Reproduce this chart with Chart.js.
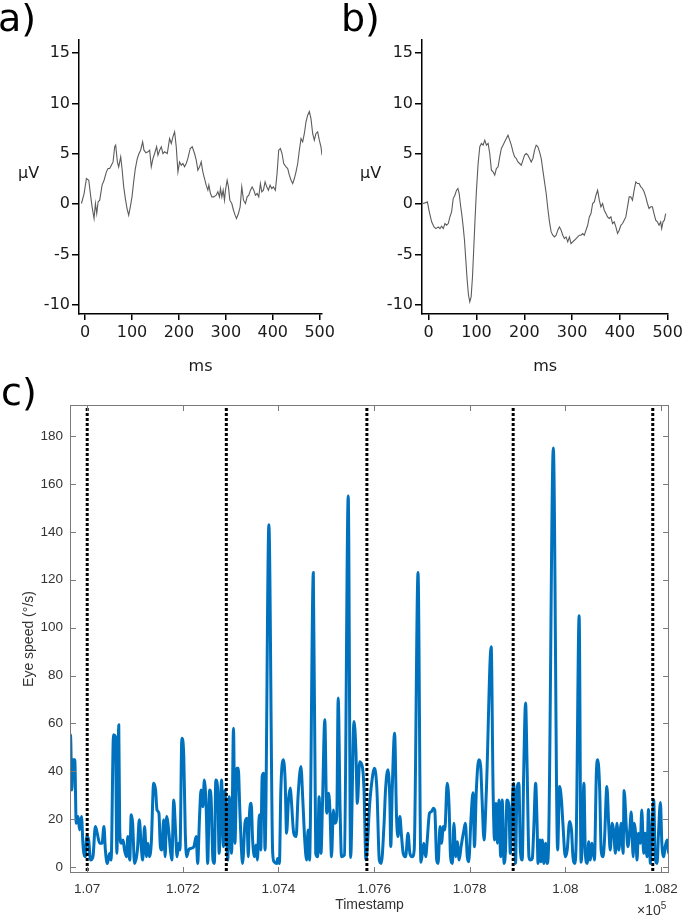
<!DOCTYPE html>
<html><head><meta charset="utf-8">
<script src="https://cdn.jsdelivr.net/npm/chart.js@4.4.1/dist/chart.umd.min.js"></script>
<style>
html,body{margin:0;padding:0;background:#fff;}
#wrap{position:relative;width:686px;height:916px;overflow:hidden;background:#fff;}
canvas{position:absolute;}
.lab{position:absolute;font-family:"DejaVu Sans",sans-serif;line-height:1;color:#000;white-space:nowrap;}
</style></head><body>
<div id="wrap">
<canvas id="ca" width="343" height="380" style="left:0;top:0;width:343px;height:380px"></canvas>
<canvas id="cb" width="343" height="380" style="left:343px;top:0;width:343px;height:380px"></canvas>
<canvas id="cc" width="686" height="536" style="left:0;top:380px;width:686px;height:536px"></canvas>
<div class="lab" style="left:-2px;top:-1px;font-size:38px">a)</div>
<div class="lab" style="left:341px;top:-1px;font-size:38px">b)</div>
<div class="lab" style="left:1px;top:373px;font-size:38px">c)</div>
<div class="lab" style="left:18px;top:165px;font-size:16px;color:#1a1a1a">μV</div>
<div class="lab" style="left:360px;top:165px;font-size:16px;color:#1a1a1a">μV</div>
<div class="lab" style="left:637px;top:903px;font-size:14px;font-family:'Liberation Sans',Arial,sans-serif;color:#333">×10<span style="font-size:10px;position:relative;top:-6px">5</span></div>
</div>
<script>
// ---------- Panel a: ERP trace ----------
const aMs = [-7.8,-2.1,2.8,7.8,12.1,14.9,19.1,22,24.8,27.7,31.2,36.2,40.4,45.4,48.9,52.5,56,59.6,63.1,65.2,68.8,71.6,75.9,78.7,82.3,85.8,89.4,92.9,96.4,100,103.5,107.1,111.3,114.9,118.4,122.7,125.5,129.8,134,137.6,141.1,144.7,148.2,152.5,155.3,158.9,162.4,166,169.5,175.2,180.1,183.7,187.2,190.8,194.3,197.9,201.4,205,208.5,212,215.6,219.1,224.1,228.4,233.3,236.9,240.4,244,247.5,251,254.6,258.1,261.7,263.8,267.3,270.2,274.5,279.4,283,286.5,288.6,291.5,294.3,297.1,299.3,302.8,305.6,308.5,312.7,316.3,319.8,322.7,326.9,330.5,334,337.6,341.8,345.4,348.9,352.5,356,359.6,363.1,366.7,370.2,373.7,376.6,380.1,383.7,387.2,390.8,394.3,397.9,401.4,405.6,409.2,412.7,416.3,419.8,423.4,428.4,431.9,435.4,439,442.5,446.1,449.6,453.2,456.7,460.3,463.8,467.4,470.9,474.5,478,481.5,485.1,488.6,492.2,495.7,499.3,502.8,505];
const aUv = [0.07,1.06,2.55,2.38,0.73,-0.26,-1.42,0.07,-0.93,0.23,0.4,1.89,2.38,3.21,3.54,3.54,3.87,4.2,5.7,5.86,4.2,3.7,4.7,3.54,1.72,0.56,-0.43,-1.09,-0.26,0.73,2.22,3.54,4.54,5.03,5.36,6.19,5.36,5.1,5.2,5.36,3.71,4.54,5.03,5.7,4.87,5.36,5.7,5.03,5.2,5.03,6.52,6.03,6.69,7.19,5.7,3.21,4.2,3.87,4.04,3.71,4.04,4.54,5.53,5.7,5.03,4.37,3.38,3.71,4.2,3.21,2.55,1.89,1.39,1.89,1.06,0.73,0.73,0.89,1.23,0.73,1.56,0.73,1.39,0.4,1.39,2.38,1.72,0.4,0.07,-0.6,-1.09,-1.42,-0.93,-0.26,1.72,0.4,0.07,0.73,0.89,1.39,1.72,1.39,0.89,1.06,0.73,2.05,1.23,1.39,2.22,1.72,1.39,1.89,1.56,1.72,1.39,3.05,5.36,5.53,5.03,4.04,3.71,3.54,2.88,2.38,2.05,2.55,3.21,4.04,5.36,6.52,6.19,7.02,8.18,8.84,9.2,8.5,7.02,6.36,7.02,7.19,6.36,5.7,4.87];

// ---------- Panel b: ERP trace ----------
const bMs = [-12.5,-7.7,-2.8,1.3,6.2,11.1,15.2,20.1,23.6,27,30.5,34,37.5,40.9,44.4,47.9,51.3,54.8,58.3,61.1,63.8,66.6,69.4,72.2,74.9,77.7,80.5,83.3,86,88.8,91.6,94.4,97.2,99.9,103.4,106.9,110.4,113.8,117.3,120.8,124.3,127.7,131.2,134.7,138.1,141.6,145.1,148.6,152,155.5,159,162.4,165.9,169.4,172.9,176.3,179.8,183.3,186.7,190.2,193.7,197.2,200.6,204.1,207.6,211.1,214.5,218,221.5,224.9,228.4,231.9,235.4,238.8,242.3,245.8,249.2,252.7,256.2,259.7,263.1,266.6,270.1,273.5,277,280.5,284,287.4,290.9,294.4,297.8,301.3,304.8,308.3,311.7,315.2,318.7,322.2,325.6,329.1,332.6,336,339.5,343,346.5,349.9,353.4,356.9,360.3,363.8,367.3,370.8,374.2,377.7,381.2,384.6,388.1,391.6,395.1,398.5,402,405.5,409,412.4,415.9,419.4,422.8,426.3,429.8,433.3,436.7,440.2,443.7,447.1,450.6,454.1,457.6,461,464.5,468,471.4,474.9,478.4,481.9,485.3,487.4,490.2,493,495.7];
const bUv = [0.07,0.13,0.23,-0.76,-1.75,-2.25,-2.42,-2.25,-2.42,-2.19,-2.42,-1.92,-2.09,-1.92,-1.26,-0.76,0.56,0.89,1.39,1.56,1.06,-0.1,-1.09,-2.25,-3.58,-5.56,-7.55,-9.04,-9.7,-9.2,-7.22,-4.24,-1.26,1.39,4.04,5.7,6.03,5.86,6.36,5.86,6.03,5.03,3.38,3.21,2.88,3.54,3.71,4.7,5.53,5.86,6.19,6.52,6.85,6.36,5.86,5.2,4.7,4.54,4.2,4.04,3.87,4.37,4.87,5.03,4.87,4.54,4.2,4.54,5.36,5.86,5.7,5.2,4.54,3.38,2.22,1.06,-0.43,-1.75,-2.75,-3.08,-3.25,-3.08,-2.58,-2.25,-2.58,-3.08,-3.41,-3.25,-3.74,-3.25,-3.91,-3.74,-3.58,-3.41,-3.25,-3.08,-3.08,-2.91,-3.08,-2.58,-2.09,-1.26,-0.93,0.07,0.23,0.89,1.39,0.4,-0.26,0.07,-0.6,-0.93,-1.26,-1.42,-1.26,-1.92,-1.75,-2.25,-2.91,-2.58,-2.09,-1.92,-1.59,-1.26,-0.26,0.73,0.73,0.4,1.39,2.22,2.05,2.05,1.72,1.56,1.23,0.73,0.07,-0.43,-0.26,-0.26,-0.93,-1.59,-1.75,-2.09,-1.75,-2.42,-1.75,-1.59,-0.93];

const msTicks = [0,100,200,300,400,500];
const uvTicks = [-10,-5,0,5,10,15];

// ---------- Panel c: eye speed ----------
const cTime = [106960,106965,106968,106970,106974,106977,106981,106984,106988,106991,106993,106996,106999,107003,107007,107012,107017,107021,107026,107031,107035,107038,107042,107047,107050,107055,107059,107062,107066,107068,107071,107075,107078,107082,107085,107089,107092,107095,107099,107105,107109,107113,107116,107120,107124,107127,107130,107134,107139,107143,107146,107150,107153,107156,107160,107163,107166,107171,107174,107177,107181,107185,107188,107191,107194,107198,107202,107205,107208,107212,107217,107223,107228,107231,107235,107238,107242,107245,107249,107252,107256,107259,107263,107266,107269,107273,
107276,107281,107285,107288,107294,107297,107302,107306,107309,107313,107316,107319,107322,107325,107330,107334,107337,107339,107343,107346,107350,107353,107356,107360,107363,107366,107369,107372,107380,107388,107391,107397,107398,107402,107405,107410,107414,107417,107421,107425,107427,107432,107437,107441,107447,107451,107455,107459,107462,107465,107473,107478,107482,107485,107489,107492,107497,107501,107505,107508,107511,107515,107518,107522,107525,107529,107532,107538,107546,107551,107558,107562,107565,107570,107576,107579,107583,
107586,107590,107595,107601,107606,107611,107615,107621,107624,107629,107633,107635,107638,107643,107647,107650,107654,107657,107661,107666,107671,107675,107680,107684,107692,107698,107701,107704,107708,107711,107716,107720,107724,107727,107731,107734,107738,107741,107745,107748,107753,107757,107760,107764,107767,107771,107774,107778,107782,107788,107791,107795,107798,107803,107807,107810,107814,107819,107823,107826,107830,107835,107845,107849,107852,107855,107858,107861,107865,107868,107872,107875,107878,107882,107885,107889,107892,107896,107899,
107903,107906,107910,107913,107917,107920,107924,107927,107931,107934,107938,107941,107943,107947,107949,107952,107955,107959,107962,107965,107975,107984,107988,107992,107995,108000,108004,108009,108013,108016,108020,108023,108029,108033,108035,108039,108042,108046,108049,108052,108056,108061,108065,108068,108072,108075,108079,108082,108087,108091,108094,108098,108101,108105,108108,108112,108117,108121,108123,108128,108131,108135,108138,108142,108144,108148,108150,108153,108157,108160,108164,108167,108171,108174,108178,108181,108185,108188,108192,108195,108199,108202,108206,108209,108213,108216,108220];
const cSpeed = [14.1,55.2,32.2,44.8,44.8,18.3,21.1,15.5,21.1,9.9,5.7,4.3,12.7,11.3,2.9,4.3,16.9,14.1,9.9,9.9,16.9,7.1,1.5,5.7,2.9,55.2,54.5,5.7,59.4,15.5,9.9,11.3,7.1,4.3,12.7,2.9,21.8,18.3,1.5,7.1,19.7,8.5,2.9,16.9,4.3,9.9,4.3,9.9,35,32.2,23.8,22.5,8.5,7.1,19.7,4.3,21.1,14.1,7.1,2.9,28,14.1,4.3,9.9,7.1,53.8,46.2,15.5,4.3,7.1,7.8,8.5,12.7,1.5,21.1,32.2,25.2,36.4,23.8,1.5,32.2,29.4,2.9,1.5,36.4,32.2,
5.7,36.4,8.5,32,2.9,29.4,5.7,58,9.9,41.3,41.3,25.2,9.9,1.5,18.3,20.4,4.3,20.4,26.6,11.3,4.3,9.2,2.9,21.8,7.1,37.8,39.2,7.1,143,5.7,2.2,1.5,3.6,1.5,32.2,44.8,36.4,14.1,28,33,28,14.1,12.7,29.4,42,28,11.3,2.9,15.5,2.9,123,5.7,4.3,29.4,5.7,25.2,61.5,22.5,30.8,22.5,4.3,23.8,18.3,21.1,70.6,23.8,4.3,5,155,4,60.8,49,26.6,44,41.3,32.2,3,
8.5,23.8,35,41.3,32.2,2.9,1.5,18.3,32.2,40.6,28,8.5,32.2,55.9,21.1,12.7,21.1,14.1,5.7,4.3,14.1,5.7,4.3,7.1,123,2,5.7,9.9,4.3,10.6,22.5,23.1,24.5,23.8,2.9,1.5,16.9,9.9,16.9,15.5,35,25.2,4.3,1.5,18.3,4.3,10.6,2.9,8.5,15.5,18.3,4.3,2.2,21.1,31,8.5,32.2,44.8,42,28,11.3,32.2,92,32.2,11.3,26.6,9.9,28,4.3,28,1.5,7.1,28,25.2,5.7,26.6,35,1.5,32.2,
35,7.1,2.9,39.2,68.5,43.4,4.3,2.9,3.6,15.5,35,18.3,1.5,11.3,2.2,11.3,1.5,9.9,1.5,8.5,175,7.1,33.6,28,18.3,4.3,7.1,19,15.5,4.3,1.5,12.7,105,2,7.1,35,5.7,1.5,10.6,2.9,9.9,2.9,39.2,44.8,32.2,7.1,4.3,11.3,33.6,16.9,7.1,18.3,15.5,5.7,18.3,7.1,18.3,5.7,32,15.5,8.5,15.5,23,4.3,18.3,11.3,2.9,14.1,9.9,23.8,5.7,14.1,4.3,24,1.5,14.1,28,4.3,1.5,14.1,27,9.9,4.3,8.5,11.3,5.7,7.1];
const eventTimes = [107000,107291,107585,107891,108183];
const cTickValues = [107000,107200,107400,107600,107800,108000,108200];
const cTickLabels = ["1.07","1.072","1.074","1.076","1.078","1.08","1.082"];
const speedTicks = [0,20,40,60,80,100,120,140,160,180];

// ---------- helpers ----------
function pts(xs, ys){ return xs.map((x,i)=>({x:x,y:ys[i]})); }
const fontAB = {family:"'DejaVu Sans', Verdana, sans-serif", size:16};
const fontC = {family:"'Liberation Sans', Arial, Helvetica, sans-serif", size:13.5};

function erpChart(id, xs, ys, xmin, xmax, padRight){
  return new Chart(document.getElementById(id), {
    type:'line',
    data:{datasets:[{label:'ERP', data:pts(xs,ys), borderColor:'#5c5c5c', borderWidth:1.1, pointRadius:0, tension:0, fill:false}]},
    options:{
      responsive:false, animation:false, devicePixelRatio:1,
      layout:{autoPadding:false, padding:{left:0,right:padRight,top:40,bottom:0}},
      plugins:{legend:{display:false}, tooltip:{enabled:false}},
      scales:{
        x:{type:'linear', min:xmin, max:xmax,
          afterBuildTicks:s=>{s.ticks = msTicks.map(v=>({value:v}));},
          afterFit:s=>{s.height = 66;},
          ticks:{font:fontAB, color:'#1a1a1a', padding:3, autoSkip:false, maxRotation:0},
          grid:{drawOnChartArea:false, drawTicks:true, tickLength:6, color:'#000', lineWidth:1.5},
          border:{display:true, color:'#000', width:1.5},
          title:{display:true, text:'ms', font:fontAB, color:'#1a1a1a', padding:{top:0,bottom:4}}
        },
        y:{type:'linear', min:-10.9, max:16.3,
          afterBuildTicks:s=>{s.ticks = uvTicks.map(v=>({value:v}));},
          afterFit:s=>{s.width = 79;},
          ticks:{font:fontAB, color:'#1a1a1a', padding:2, autoSkip:false},
          grid:{drawOnChartArea:false, drawTicks:true, tickLength:7, color:'#000', lineWidth:1.5},
          border:{display:true, color:'#000', width:1.5}
        }
      }
    }
  });
}
erpChart('ca', aMs, aUv, -13, 505, 21);
erpChart('cb', bMs, bUv, -14, 501, 17);

// inward ticks + box for panel c
const boxTicks = {
  id:'boxTicks',
  afterDatasetsDraw(chart){
    const {ctx, chartArea:a, scales:{x,y}} = chart;
    ctx.save();
    ctx.strokeStyle = '#7a7a7a'; ctx.lineWidth = 1;
    ctx.strokeRect(a.left+0.5, a.top+0.5, a.right-a.left-1, a.bottom-a.top-1);
    ctx.beginPath();
    x.ticks.forEach(t=>{
      const p = Math.round(x.getPixelForValue(t.value))+0.5;
      ctx.moveTo(p, a.bottom); ctx.lineTo(p, a.bottom-6);
      ctx.moveTo(p, a.top); ctx.lineTo(p, a.top+6);
    });
    y.ticks.forEach(t=>{
      const p = Math.round(y.getPixelForValue(t.value))+0.5;
      ctx.moveTo(a.left, p); ctx.lineTo(a.left+6, p);
      ctx.moveTo(a.right, p); ctx.lineTo(a.right-6, p);
    });
    ctx.stroke();
    ctx.restore();
  }
};

const eventSets = eventTimes.map(t=>({
  label:'event', data:[{x:t,y:-10},{x:t,y:250}], borderColor:'#000', borderWidth:3,
  borderDash:[3,2], pointRadius:0, fill:false, clip:0, order:0
}));

new Chart(document.getElementById('cc'), {
  type:'line',
  data:{datasets:[...eventSets,
    {label:'Eye speed', data:pts(cTime,cSpeed), borderColor:'#0072BD', borderWidth:3,
     pointRadius:0, fill:false, cubicInterpolationMode:'monotone', borderJoinStyle:'round', order:1}]},
  options:{
    responsive:false, animation:false, devicePixelRatio:1,
    layout:{autoPadding:false, padding:{left:0,right:16,top:25,bottom:0}},
    plugins:{legend:{display:false}, tooltip:{enabled:false}},
    scales:{
      x:{type:'linear', min:106964, max:108217,
        afterBuildTicks:s=>{s.ticks = cTickValues.map(v=>({value:v}));},
        afterFit:s=>{s.height = 43;},
        ticks:{font:fontC, color:'#333', padding:8, autoSkip:false, maxRotation:0,
          callback:(v,i)=>cTickLabels[i]},
        grid:{display:false, drawTicks:false},
        border:{display:false},
        title:{display:true, text:'Timestamp', font:{family:fontC.family,size:14}, color:'#333', padding:{top:0,bottom:2}}
      },
      y:{type:'linear', min:-2.5, max:193,
        afterBuildTicks:s=>{s.ticks = speedTicks.map(v=>({value:v}));},
        afterFit:s=>{s.width = 70;},
        ticks:{font:fontC, color:'#333', padding:7, autoSkip:false},
        grid:{display:false, drawTicks:false},
        border:{display:false},
        title:{display:true, text:'Eye speed (°/s)', font:{family:fontC.family,size:14}, color:'#333', padding:{top:21,bottom:0}}
      }
    }
  },
  plugins:[boxTicks]
});
</script>
</body></html>
